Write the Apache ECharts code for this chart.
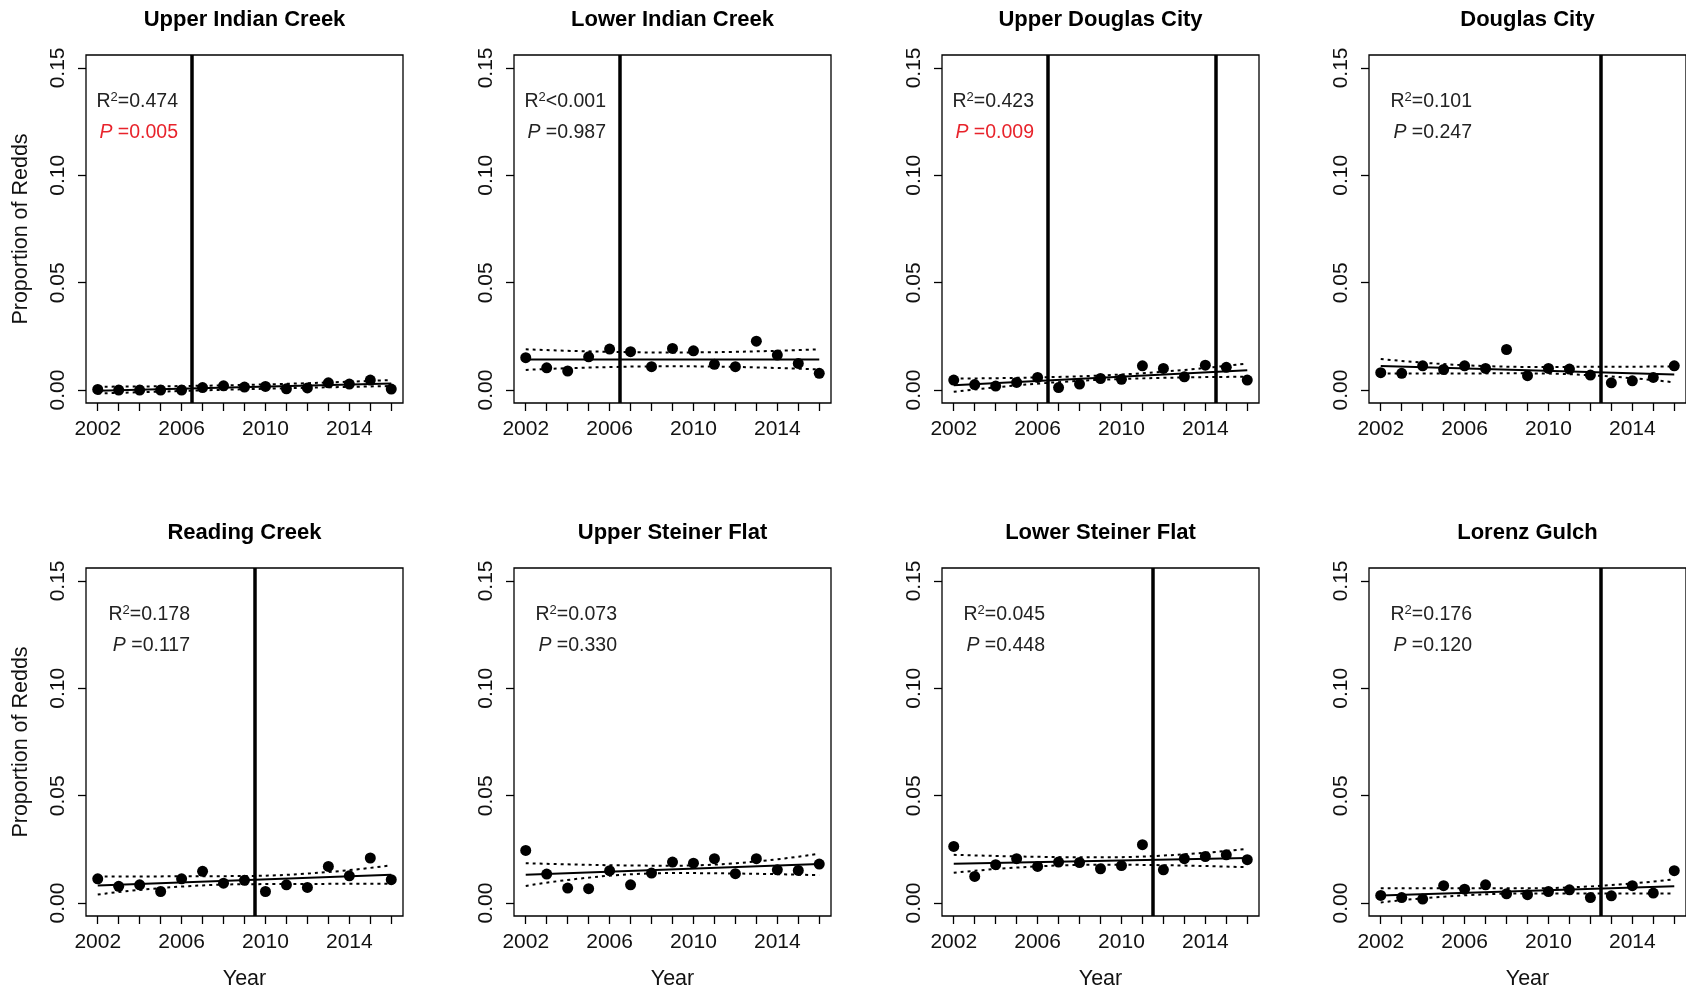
<!DOCTYPE html>
<html>
<head>
<meta charset="utf-8">
<script src="https://cdn.jsdelivr.net/npm/echarts@6/dist/echarts.min.js"></script>
<style>
  html, body { margin: 0; padding: 0; background: #fff; }
  #chart { width: 1686px; height: 992px; }
</style>
</head>
<body>
<div id="chart"></div>
<script>
// Survey years and the years that carry a tick label
const years = [2002, 2003, 2004, 2005, 2006, 2007, 2008, 2009, 2010, 2011, 2012, 2013, 2014, 2015, 2016];
const labelYears = [2002, 2006, 2010, 2014];
const yTicks = [0, 0.05, 0.10, 0.15];
const fitYears = [2002, 2016];
const bandYears = [2002, 2009, 2016];

const siteNames = ['Upper Indian Creek', 'Lower Indian Creek', 'Upper Douglas City', 'Douglas City',
                   'Reading Creek', 'Upper Steiner Flat', 'Lower Steiner Flat', 'Lorenz Gulch'];

// Proportion of redds per year, one array per site
const upperIndianCreek = [0.0003, 0.0000, 0.0000, 0.0000, 0.0000, 0.0012, 0.0020, 0.0014, 0.0017, 0.0006, 0.0010, 0.0034, 0.0028, 0.0047, 0.0005];
const lowerIndianCreek = [0.0151, 0.0104, 0.0089, 0.0155, 0.0191, 0.0179, 0.0109, 0.0194, 0.0183, 0.0120, 0.0109, 0.0228, 0.0163, 0.0124, 0.0078];
const upperDouglasCity = [0.0047, 0.0026, 0.0019, 0.0036, 0.0059, 0.0012, 0.0028, 0.0054, 0.0050, 0.0113, 0.0101, 0.0062, 0.0116, 0.0106, 0.0047];
const douglasCity      = [0.0081, 0.0078, 0.0113, 0.0096, 0.0113, 0.0101, 0.0189, 0.0067, 0.0101, 0.0098, 0.0070, 0.0034, 0.0043, 0.0059, 0.0113];
const readingCreek     = [0.0113, 0.0078, 0.0085, 0.0054, 0.0113, 0.0148, 0.0093, 0.0106, 0.0054, 0.0085, 0.0073, 0.0171, 0.0127, 0.0210, 0.0109];
const upperSteinerFlat = [0.0245, 0.0135, 0.0070, 0.0067, 0.0151, 0.0085, 0.0140, 0.0191, 0.0186, 0.0207, 0.0137, 0.0207, 0.0155, 0.0152, 0.0182];
const lowerSteinerFlat = [0.0264, 0.0124, 0.0179, 0.0207, 0.0171, 0.0191, 0.0189, 0.0160, 0.0175, 0.0272, 0.0155, 0.0207, 0.0217, 0.0225, 0.0202];
const lorenzGulch      = [0.0036, 0.0026, 0.0019, 0.0081, 0.0065, 0.0085, 0.0043, 0.0039, 0.0054, 0.0062, 0.0026, 0.0034, 0.0081, 0.0047, 0.0151];

// Fitted regression line at 2002 and 2016
const fitLines = [
  [-0.0003, 0.0031], [0.0143, 0.0143], [0.0023, 0.0093], [0.0112, 0.0073],
  [0.0082, 0.0132], [0.0132, 0.0182], [0.0183, 0.0210], [0.0036, 0.0078]
];
// Confidence band edges at 2002, 2009 and 2016
const bandUpper = [
  [0.0016, 0.0024, 0.0047], [0.0190, 0.0175, 0.0190], [0.0054, 0.0068, 0.0124], [0.0145, 0.0108, 0.0110],
  [0.0124, 0.0126, 0.0176], [0.0186, 0.0174, 0.0230], [0.0225, 0.0213, 0.0253], [0.0069, 0.0069, 0.0111]
];
const bandLower = [
  [-0.0016, 0.0004, 0.0019], [0.0094, 0.0111, 0.0096], [-0.0008, 0.0048, 0.0062], [0.0077, 0.0078, 0.0036],
  [0.0040, 0.0088, 0.0090], [0.0080, 0.0140, 0.0130], [0.0141, 0.0179, 0.0167], [0.0003, 0.0045, 0.0045]
];
// Years marked with a vertical reference line
const breakYears = [[2006.5], [2006.5], [2006.5, 2014.5], [2012.5], [2009.5], [], [2011.5], [2012.5]];

// Regression statistics
const rSquared = ['=0.474', '<0.001', '=0.423', '=0.101', '=0.178', '=0.073', '=0.045', '=0.176'];
const pValues  = ['0.005', '0.987', '0.009', '0.247', '0.117', '0.330', '0.448', '0.120'];
const significant = [true, false, true, false, false, false, false, false];

const siteValues = [upperIndianCreek, lowerIndianCreek, upperDouglasCity, douglasCity,
                    readingCreek, upperSteinerFlat, lowerSteinerFlat, lorenzGulch];

// Layout
const FONT = '"Liberation Sans", Arial, Helvetica, sans-serif';
const colLeft = [86, 514, 942, 1369];
const rowTop = [55, 568];
const boxW = 317, boxH = 348;
const titleY = [20, 533];
const statRight = [92, 92, 92, 103, 104, 103, 103, 103];
const INK = '#111';

const grid = [], xAxis = [], yAxis = [], series = [], graphic = [];

siteNames.forEach((name, i) => {
  const col = i % 4, row = Math.floor(i / 4);
  const left = colLeft[col], top = rowTop[row];

  grid.push({
    left: left, top: top, width: boxW, height: boxH,
    show: true, borderColor: '#000', borderWidth: 1.3, backgroundColor: 'transparent'
  });

  xAxis.push({
    gridIndex: i, type: 'value', min: 2001.44, max: 2016.56,
    axisLine: { show: false, onZero: false },
    splitLine: { show: false },
    axisTick: { show: true, length: 8, lineStyle: { color: '#000', width: 1.3 }, customValues: years },
    axisLabel: {
      customValues: labelYears, margin: 16, fontSize: 21, color: INK, fontFamily: FONT,
      formatter: v => String(Math.round(v))
    },
    name: row === 1 ? 'Year' : '',
    nameLocation: 'middle', nameGap: 52,
    nameTextStyle: { fontSize: 21.5, color: INK, fontFamily: FONT }
  });

  yAxis.push({
    gridIndex: i, type: 'value', min: -0.006, max: 0.156,
    axisLine: { show: false, onZero: false },
    splitLine: { show: false },
    axisTick: { show: true, length: 8, lineStyle: { color: '#000', width: 1.3 }, customValues: yTicks },
    axisLabel: {
      customValues: yTicks, rotate: 90, margin: 17, fontSize: 21, color: INK, fontFamily: FONT,
      formatter: v => v.toFixed(2)
    },
    name: col === 0 ? 'Proportion of Redds' : '',
    nameLocation: 'middle', nameGap: 54,
    nameTextStyle: { fontSize: 21.5, color: INK, fontFamily: FONT }
  });

  // yearly points with the reference years as vertical lines
  series.push({
    type: 'scatter', xAxisIndex: i, yAxisIndex: i,
    symbol: 'circle', symbolSize: 11,
    itemStyle: { color: '#000', opacity: 1 },
    data: years.map((y, k) => [y, siteValues[i][k]]),
    markLine: {
      silent: true, symbol: 'none', animation: false,
      label: { show: false },
      lineStyle: { color: '#000', width: 3.5, type: 'solid', opacity: 1 },
      data: breakYears[i].map(x => ({ xAxis: x }))
    },
    z: 3
  });

  // regression line
  series.push({
    type: 'line', xAxisIndex: i, yAxisIndex: i, symbol: 'none',
    lineStyle: { color: '#000', width: 2 },
    data: fitYears.map((y, k) => [y, fitLines[i][k]]),
    z: 2
  });

  // confidence band edges
  [bandUpper, bandLower].forEach(band => {
    series.push({
      type: 'line', xAxisIndex: i, yAxisIndex: i, symbol: 'none', smooth: true,
      lineStyle: { color: '#000', width: 2, type: [3, 4] },
      data: bandYears.map((y, k) => [y, band[i][k]]),
      z: 2
    });
  });

  // panel title
  graphic.push({
    type: 'text', x: left + boxW / 2, y: titleY[row], silent: true,
    style: {
      text: name, fill: '#000', align: 'center', verticalAlign: 'middle',
      font: 'bold 22px ' + FONT
    }
  });

  // regression statistics
  graphic.push({
    type: 'text', x: left + statRight[i], y: top + 47, silent: true,
    style: {
      text: 'R{s|2}' + rSquared[i], fill: '#222', align: 'right', verticalAlign: 'middle',
      font: '19.5px ' + FONT, lineHeight: 22,
      rich: { s: { fontSize: 13, fontFamily: FONT, fill: '#222', verticalAlign: 'top', lineHeight: 13 } }
    }
  });
  const pColor = significant[i] ? '#e8232b' : '#222';
  graphic.push({
    type: 'text', x: left + statRight[i], y: top + 78, silent: true,
    style: {
      text: '{i|P} =' + pValues[i], fill: pColor, align: 'right', verticalAlign: 'middle',
      font: '19.5px ' + FONT,
      rich: { i: { fontStyle: 'italic', fontSize: 19.5, fontFamily: FONT, fill: pColor } }
    }
  });
});

const chart = echarts.init(document.getElementById('chart'), null, { renderer: 'canvas' });
chart.setOption({
  animation: false,
  backgroundColor: '#fff',
  grid: grid,
  xAxis: xAxis,
  yAxis: yAxis,
  series: series,
  graphic: graphic
});
</script>
</body>
</html>
